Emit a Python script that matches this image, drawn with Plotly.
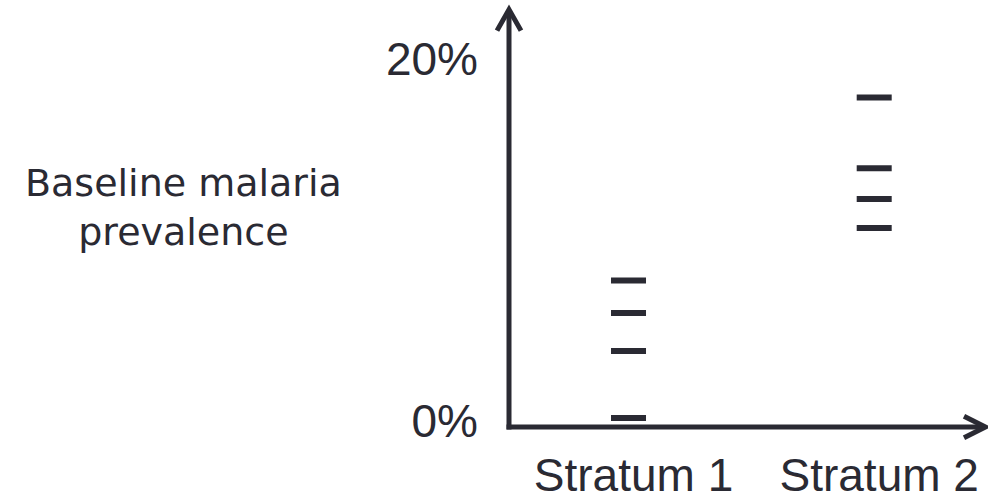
import plotly.graph_objects as go

# ---- data ----
categories = ["Stratum 1", "Stratum 2"]
stratum1_prevalence = [0.5, 4.2, 6.3, 8.1]
stratum2_prevalence = [11.0, 12.6, 14.3, 18.2]
y_tick_values = [0, 20]
y_tick_labels = ["0%", "20%"]
y_title = "Baseline malaria<br>prevalence"

# ---- layout constants (pixels) ----
W, H = 988, 502
L, R, T, B = 509, 1, 8, 68
PW, PH = W - L - R, H - T - B
INK = "#2a2a33"

def px(p):
    return (p - L) / PW

def py(q):
    return (H - B - q) / PH

marker = dict(symbol="line-ew", size=25, line=dict(width=6, color=INK), color=INK)
fig = go.Figure()
fig.add_trace(go.Scatter(
    x=[categories[0]] * len(stratum1_prevalence), y=stratum1_prevalence,
    mode="markers", showlegend=False, hoverinfo="skip", marker=marker))
fig.add_trace(go.Scatter(
    x=[categories[1]] * len(stratum2_prevalence), y=stratum2_prevalence,
    mode="markers", showlegend=False, hoverinfo="skip", marker=marker))

axis_line = dict(color=INK, width=5)
shapes = [
    dict(type="line", xref="paper", yref="paper", x0=px(509), y0=py(436.5), x1=px(509), y1=py(11), line=axis_line),
    dict(type="line", xref="paper", yref="paper", x0=px(506.5), y0=py(434), x1=px(984), y1=py(434), line=axis_line),
    dict(type="path", xref="paper", yref="paper",
         path=f"M {px(497)},{py(31)} L {px(509)},{py(9.5)} L {px(521)},{py(31)}", line=axis_line),
    dict(type="path", xref="paper", yref="paper",
         path=f"M {px(964)},{py(423)} L {px(985.5)},{py(434)} L {px(964)},{py(445)}", line=axis_line),
]

annotations = [
    dict(text=y_title, xref="paper", yref="paper", x=px(183), y=py(211),
         xanchor="center", yanchor="middle", showarrow=False, align="center",
         font=dict(family="DejaVu Sans, sans-serif", size=38, color=INK)),
]

fig.update_layout(
    width=W, height=H,
    margin=dict(l=L, r=R, t=T, b=B, pad=0),
    paper_bgcolor="white", plot_bgcolor="white",
    font=dict(family="Liberation Sans, Arial, sans-serif", color=INK, size=46),
    shapes=shapes, annotations=annotations,
    xaxis=dict(type="category", categoryorder="array", categoryarray=categories,
               range=[-0.4864, 1.4591], showgrid=False, zeroline=False, showline=False,
               ticks="", tickfont=dict(size=46, color=INK), ticklabelstandoff=17,
               ticklabelshift=5, fixedrange=True),
    yaxis=dict(range=[0, PH / 18.4], tickvals=y_tick_values, ticktext=y_tick_labels,
               showgrid=False, zeroline=False, showline=False, ticks="",
               tickfont=dict(size=46, color=INK), ticklabelstandoff=30,
               ticklabelshift=-6, fixedrange=True),
)

css_fix = (
    "var d=document.documentElement,b=document.body;"
    "d.style.margin='0';d.style.padding='0';d.style.overflow='hidden';"
    "b.style.margin='0';b.style.padding='0';b.style.overflow='hidden';"
    "b.style.height='502px';b.style.width='988px';"
)
fig.write_html("out.html", config={"displayModeBar": False}, post_script=css_fix)
